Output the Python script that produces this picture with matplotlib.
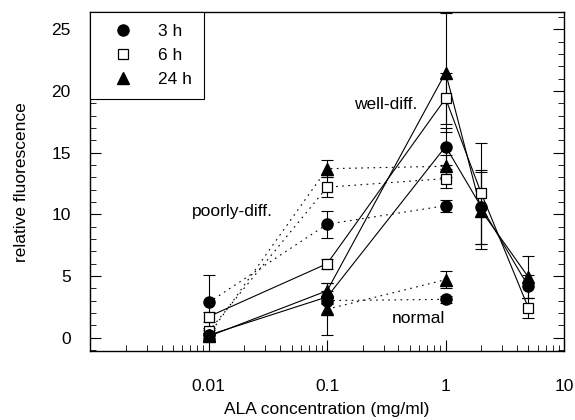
import matplotlib
matplotlib.use("Agg")
import matplotlib.pyplot as plt
from matplotlib.lines import Line2D
from matplotlib.ticker import MultipleLocator, LogLocator, FixedLocator, NullFormatter

plt.rcParams['font.family'] = ['Liberation Sans', 'DejaVu Sans']

# well-differentiated (solid lines)
conc_well = [0.01, 0.1, 1, 2, 5]
well_3h = [0.2, 3.3, 15.5, 10.6, 4.15]
well_3h_err = [0.2, 0.5, 1.5, 3.0, 0.9]
well_6h = [1.7, 6.0, 19.4, 11.7, 2.4]
well_6h_err = [0.4, 0.4, 2.1, 4.1, 0.85]
well_24h = [0.1, 3.8, 21.5, 10.3, 4.9]
well_24h_err = [0.2, 0.6, 4.8, 3.1, 1.7]

# poorly-differentiated (dotted lines)
conc_poor = [0.01, 0.1, 1]
poor_3h = [2.85, 9.2, 10.7]
poor_3h_err = [2.2, 1.1, 0.5]
poor_6h = [0.5, 12.2, 12.9]
poor_6h_err = [0.3, 0.8, 0.8]
poor_24h = [0.2, 13.7, 13.9]
poor_24h_err = [0.2, 0.7, 0.9]

# normal (dotted lines)
conc_norm = [0.1, 1]
norm_3h = [3.0, 3.1]
norm_3h_err = [0.3, 0.3]
norm_24h = [2.3, 4.7]
norm_24h_err = [2.1, 0.7]

series_labels = ["3 h", "6 h", "24 h"]
x_ticks = [0.01, 0.1, 1, 10]
x_ticklabels = ["0.01", "0.1", "1", "10"]
y_ticks = [0, 5, 10, 15, 20, 25]

FS = 12.5

fig = plt.figure(figsize=(5.75, 4.2), dpi=100)
ax = fig.add_axes([0.157, 0.164, 0.824, 0.807])

styles = {
    "3h": dict(marker='o', mfc='black', mec='black', ms=8),
    "6h": dict(marker='s', mfc='white', mec='black', ms=7.5, mew=0.9),
    "24h": dict(marker='^', mfc='black', mec='black', ms=8),
}

def draw(x, y, err, key, ls):
    ax.plot(x, y, color='black', lw=0.8, linestyle=ls, zorder=2)
    ax.errorbar(x, y, yerr=err, fmt='none', ecolor='black', elinewidth=0.8,
                capsize=4, capthick=0.8, zorder=3)
    ax.plot(x, y, linestyle='none', zorder=4, **styles[key])

dot = (0, (1.5, 4))
draw(conc_norm, norm_3h, norm_3h_err, "3h", dot)
draw(conc_norm, norm_24h, norm_24h_err, "24h", dot)
draw(conc_poor, poor_3h, poor_3h_err, "3h", dot)
draw(conc_poor, poor_6h, poor_6h_err, "6h", dot)
draw(conc_poor, poor_24h, poor_24h_err, "24h", dot)
draw(conc_well, well_3h, well_3h_err, "3h", '-')
draw(conc_well, well_6h, well_6h_err, "6h", '-')
draw(conc_well, well_24h, well_24h_err, "24h", '-')

ax.set_xscale('log')
ax.set_xlim(0.001, 10)
ax.set_ylim(-1.1, 26.4)

ax.xaxis.set_major_locator(FixedLocator(x_ticks))
ax.set_xticklabels(x_ticklabels)
ax.xaxis.set_minor_locator(LogLocator(base=10, subs=range(2, 10)))
ax.xaxis.set_minor_formatter(NullFormatter())
ax.yaxis.set_major_locator(FixedLocator(y_ticks))
ax.yaxis.set_minor_locator(MultipleLocator(1))

ax.tick_params(axis='both', which='both', direction='in', labelsize=FS)
ax.tick_params(axis='x', which='major', length=8, pad=20, top=False)
ax.tick_params(axis='x', which='minor', length=4, top=False)
ax.tick_params(axis='y', which='major', length=8, pad=14, right=True)
ax.tick_params(axis='y', which='minor', length=4, right=True)

for s in ax.spines.values():
    s.set_linewidth(1.0)

ax.set_xlabel("ALA concentration (mg/ml)", fontsize=FS, labelpad=6)
ax.set_ylabel("relative fluorescence", fontsize=FS, labelpad=16)

ax.text(0.31, 18.9, "well-diff.", fontsize=FS, ha='center', va='center')
ax.text(0.0158, 10.2, "poorly-diff.", fontsize=FS, ha='center', va='center')
ax.text(0.59, 1.55, "normal", fontsize=FS, ha='center', va='center')

handles = [Line2D([], [], linestyle='none', **styles[k]) for k in ["3h", "6h", "24h"]]
leg = ax.legend(handles, series_labels, loc='upper left', borderaxespad=0,
                fancybox=False, framealpha=1, edgecolor='black', fontsize=FS,
                handletextpad=0.8, labelspacing=0.5, borderpad=0.7, handlelength=2.4)
leg.get_frame().set_linewidth(0.8)

fig.savefig("out.png", dpi=100)
